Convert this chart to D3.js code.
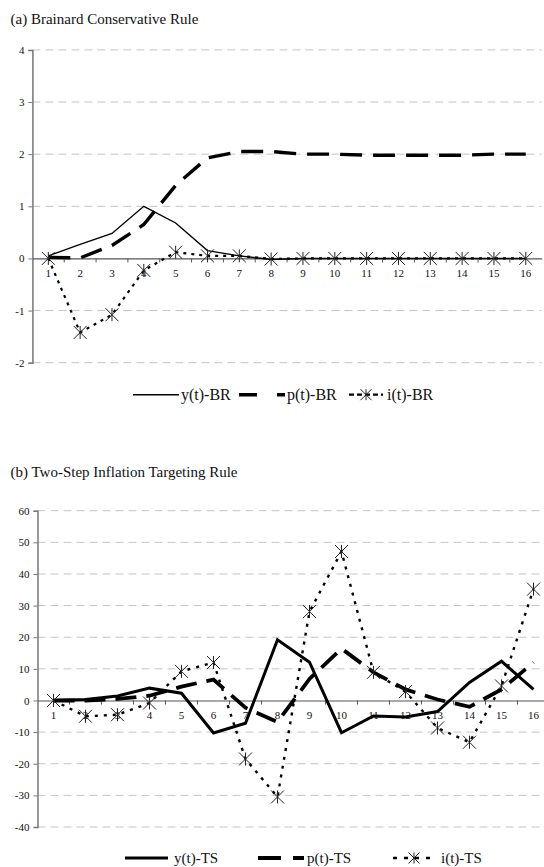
<!DOCTYPE html>
<html>
<head>
<meta charset="utf-8">
<script src="https://cdn.jsdelivr.net/npm/d3@7"></script>
<style>
  html, body { margin: 0; padding: 0; background: #fff; }
  svg { display: block; }
  text { font-family: "Liberation Serif", "Times New Roman", serif; fill: #111; }
</style>
</head>
<body>
<svg id="chart" width="544" height="867"></svg>
<script>
// ---------- data ----------
const periods = ["1","2","3","4","5","6","7","8","9","10","11","12","13","14","15","16"];

// (a) Brainard Conservative Rule
const yBR = [0.05, 0.27, 0.48, 1.0, 0.68, 0.15, 0.05, -0.02, 0, 0, 0, 0, 0, 0, 0, 0];
const pBR = [0.02, 0.01, 0.25, 0.65, 1.4, 1.93, 2.05, 2.05, 2.0, 2.0, 1.98, 1.98, 1.98, 1.98, 2.0, 2.0];
const iBR = [0, -1.42, -1.08, -0.23, 0.12, 0.05, 0.05, -0.01, 0, 0, 0, 0, 0, 0, 0, 0];
const ticksA = [-2, -1, 0, 1, 2, 3, 4];

// (b) Two-Step Inflation Targeting Rule
const yTS = [0, 0.3, 1.4, 3.9, 2.3, -10.3, -7.2, 19.2, 12.1, -10.2, -4.9, -5.2, -3.5, 5.7, 12.4, 3.5];
const pTS = [0, 0, 0.5, 1.5, 4.4, 6.6, -2.3, -6.8, 6.8, 16.4, 8.9, 3.5, 0.3, -2.0, 3.5, 12.0];
const iTS = [0, -5.0, -4.5, -0.8, 9.2, 12.0, -18.5, -30.5, 28.1, 47.1, 8.9, 2.8, -8.7, -13.2, 4.6, 35.2];
const ticksB = [-40, -30, -20, -10, 0, 10, 20, 30, 40, 50, 60];

const svg = d3.select("#chart");

function star(s) {
  return `M0,${-s}L0,${s}M${-s},${-s}L${s},${s}M${-s},${s}L${s},${-s}`;
}

function panel(cfg) {
  const g = svg.append("g");
  const x = d3.scaleBand().domain(periods).range([cfg.x0, cfg.x1]).padding(0);
  const y = d3.scaleLinear().domain(cfg.domain).range([cfg.yBottom, cfg.yTop]);
  const cx = d => x(d) + x.bandwidth() / 2;

  // title
  g.append("text").attr("x", 10.5).attr("y", cfg.titleY)
    .attr("font-size", 15).text(cfg.title);

  // gridlines
  g.append("g").selectAll("line").data(cfg.ticks.filter(t => t !== 0)).join("line")
    .attr("x1", cfg.x0).attr("x2", cfg.x1)
    .attr("y1", d => y(d)).attr("y2", d => y(d))
    .attr("stroke", "#c4c4c4").attr("stroke-width", 1)
    .attr("stroke-dasharray", "8,5");

  // y axis
  const yAxis = d3.axisLeft(y).tickValues(cfg.ticks).tickSize(4).tickPadding(4)
    .tickFormat(d => String(d));
  const ya = g.append("g").attr("transform", `translate(${cfg.x0},0)`).call(yAxis);
  ya.select(".domain").attr("stroke", "#777").attr("stroke-width", 1.5);
  ya.selectAll(".tick line").attr("stroke", "#777");
  ya.selectAll(".tick text").attr("font-family", "Liberation Serif, serif")
    .attr("font-size", 11).attr("fill", "#222");

  // x axis at zero
  const xAxis = d3.axisBottom(x).tickSize(0).tickPadding(11);
  const xa = g.append("g").attr("transform", `translate(0,${y(0)})`).call(xAxis);
  xa.select(".domain").attr("stroke", "#555").attr("stroke-width", 1.2);
  xa.selectAll(".tick text").attr("font-family", "Liberation Serif, serif")
    .attr("font-size", 11).attr("fill", "#222");
  // tick marks at band boundaries
  xa.append("g").selectAll("line").data(periods.slice(1)).join("line")
    .attr("x1", d => x(d)).attr("x2", d => x(d))
    .attr("y1", 0).attr("y2", 4)
    .attr("stroke", "#555").attr("stroke-width", 1);

  const line = d3.line().x((d, i) => cx(periods[i])).y(d => y(d));

  // series
  cfg.series.forEach(s => {
    g.append("path").datum(s.values)
      .attr("d", line).attr("fill", "none")
      .attr("stroke", "#000").attr("stroke-width", s.width)
      .attr("stroke-dasharray", s.dash || null)
      .attr("stroke-linejoin", "miter");
    if (s.marker) {
      g.append("g").selectAll("path").data(s.values).join("path")
        .attr("transform", (d, i) => `translate(${cx(periods[i])},${y(d)})`)
        .attr("d", star(6.5)).attr("stroke", "#222").attr("stroke-width", 1)
        .attr("fill", "none");
    }
  });

  // legend
  const lg = g.append("g");
  cfg.legend.forEach(item => {
    const s = cfg.series[item.idx];
    lg.append("line")
      .attr("x1", item.lx0).attr("x2", item.lx1)
      .attr("y1", cfg.legendY).attr("y2", cfg.legendY)
      .attr("stroke", "#000").attr("stroke-width", s.width)
      .attr("stroke-dasharray", item.dash || s.dash || null);
    if (s.marker) {
      lg.append("path")
        .attr("transform", `translate(${(item.lx0 + item.lx1) / 2},${cfg.legendY})`)
        .attr("d", star(5.5)).attr("stroke", "#222").attr("stroke-width", 1).attr("fill", "none");
    }
    lg.append("text").attr("x", item.tx).attr("y", cfg.legendY + 5)
      .attr("font-size", cfg.legendFont).text(s.name);
  });
}

panel({
  title: "(a) Brainard Conservative Rule",
  titleY: 24,
  x0: 32.4, x1: 541.7,
  domain: [-2, 4], yBottom: 362.7, yTop: 49.9,
  ticks: ticksA,
  series: [
    { name: "y(t)-BR", values: yBR, width: 1.4 },
    { name: "p(t)-BR", values: pBR, width: 3.4, dash: "22,11" },
    { name: "i(t)-BR", values: iBR, width: 2.2, dash: "3,5", marker: true }
  ],
  legendY: 394.7,
  legendFont: 16,
  legend: [
    { idx: 0, lx0: 133, lx1: 179, tx: 181 },
    { idx: 1, lx0: 239, lx1: 285, tx: 287, dash: "18,20" },
    { idx: 2, lx0: 349, lx1: 383, tx: 387, dash: "5,3" }
  ]
});

panel({
  title: "(b) Two-Step Inflation Targeting Rule",
  titleY: 477,
  x0: 37.5, x1: 549.5,
  domain: [-40, 60], yBottom: 827, yTop: 510.7,
  ticks: ticksB,
  series: [
    { name: "y(t)-TS", values: yTS, width: 3 },
    { name: "p(t)-TS", values: pTS, width: 3.8, dash: "21,10" },
    { name: "i(t)-TS", values: iTS, width: 2.4, dash: "3,6", marker: true }
  ],
  legendY: 858,
  legendFont: 15,
  legend: [
    { idx: 0, lx0: 125, lx1: 168, tx: 174 },
    { idx: 1, lx0: 258, lx1: 304, tx: 307, dash: "23,12" },
    { idx: 2, lx0: 393, lx1: 435, tx: 441, dash: "4,7" }
  ]
});
</script>
</body>
</html>
